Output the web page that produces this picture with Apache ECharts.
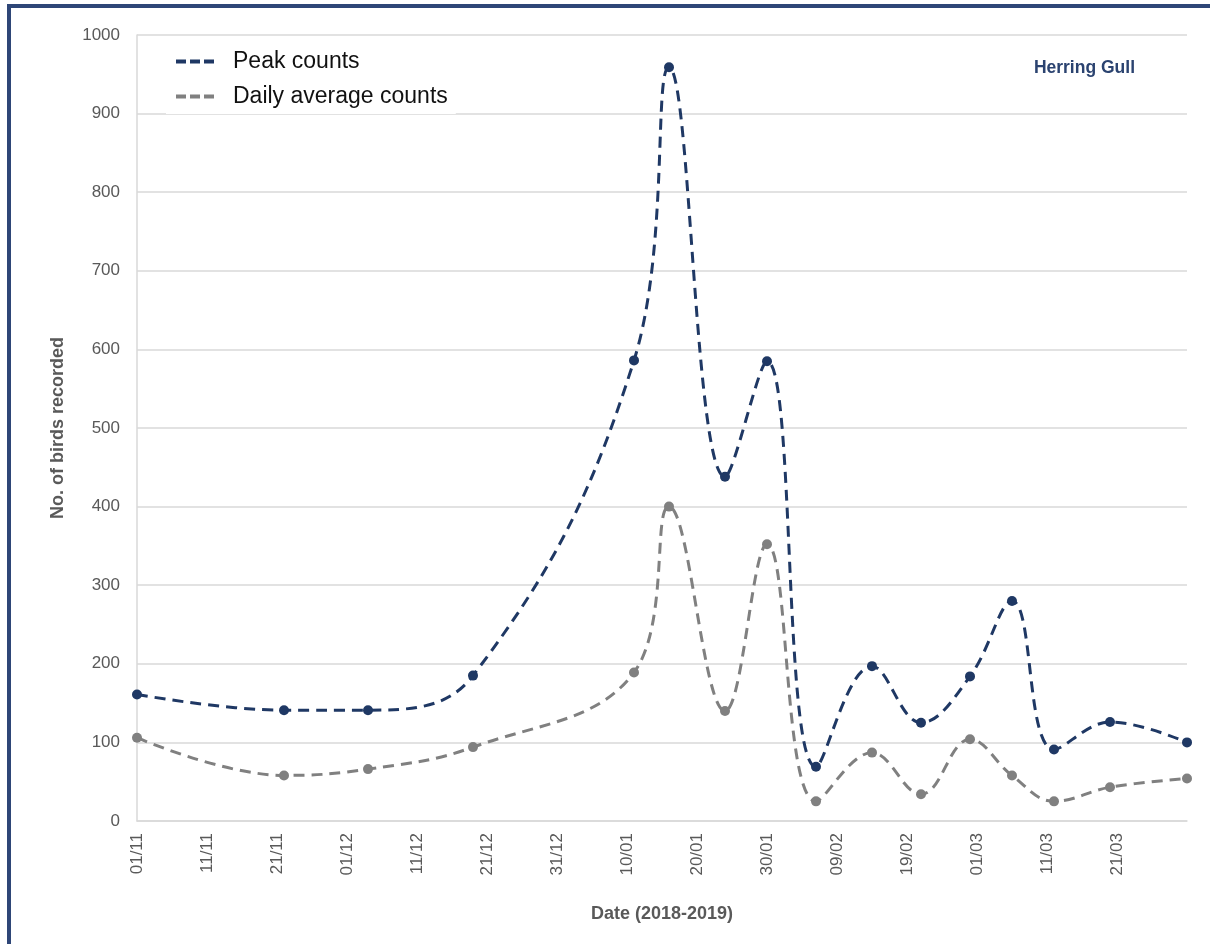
<!DOCTYPE html>
<html>
<head>
<meta charset="utf-8">
<script src="https://cdn.jsdelivr.net/npm/echarts@6/dist/echarts.min.js"></script>
<style>
  html, body { margin: 0; padding: 0; background: #ffffff; }
  #chart { width: 1210px; height: 944px; }
</style>
</head>
<body>
<div id="chart"></div>
<script>
// survey dates and counts
var surveyDates = ['2018-11-01', '2018-11-22', '2018-12-04', '2018-12-19', '2019-01-11', '2019-01-16',
    '2019-01-24', '2019-01-30', '2019-02-06', '2019-02-14', '2019-02-21', '2019-02-28',
    '2019-03-06', '2019-03-12', '2019-03-20', '2019-03-31'];
var peakCounts = [161, 141, 141, 185, 586, 959, 438, 585, 69, 197, 125, 184, 280, 91, 126, 100];
var dailyAvgCounts = [106, 58, 66, 94, 189, 400, 140, 352, 25, 87, 34, 104, 58, 25, 43, 54];
var seriesNames = ['Peak counts', 'Daily average counts'];

var startDate = '2018-11-01';
var endDate = '2019-03-31';

function toDay(s) {
    var p = s.split('-');
    var s0 = startDate.split('-');
    return (Date.UTC(+p[0], +p[1] - 1, +p[2]) - Date.UTC(+s0[0], +s0[1] - 1, +s0[2])) / 86400000;
}
function dayLabel(d) {
    var s0 = startDate.split('-');
    var t = new Date(Date.UTC(+s0[0], +s0[1] - 1, +s0[2]) + d * 86400000);
    var dd = ('0' + t.getUTCDate()).slice(-2);
    var mm = ('0' + (t.getUTCMonth() + 1)).slice(-2);
    return dd + '/' + mm;
}
function pairs(vals) {
    var list = [];
    for (var i = 0; i < surveyDates.length; i++) {
        list.push([toDay(surveyDates[i]), vals[i]]);
    }
    return list;
}

var chartDom = document.getElementById('chart');
var myChart = echarts.init(chartDom);
var option;

var axisGrey = '#595959';
var gridGrey = '#d9d9d9';
var navy = '#1F3864';
var grey = '#808080';

option = {
    backgroundColor: '#ffffff',
    animation: false,
    graphic: [{
        type: 'rect',
        shape: { x: 9, y: 6, width: 1400, height: 1200 },
        style: { fill: 'none', stroke: '#2E4677', lineWidth: 4 },
        silent: true
    }],
    title: {
        text: 'Herring Gull',
        right: 70,
        top: 54,
        textStyle: { color: '#2B4370', fontSize: 17.5, fontWeight: 'bold', fontFamily: 'Liberation Sans' }
    },
    legend: {
        orient: 'vertical',
        left: 166,
        top: 44,
        padding: [6, 8, 6, 8],
        backgroundColor: '#ffffff',
        itemGap: 12,
        itemWidth: 40,
        itemHeight: 24,
        itemStyle: { opacity: 0 },
        lineStyle: { width: 4, type: [10, 4] },
        textStyle: { color: '#111111', fontSize: 23, fontFamily: 'Liberation Sans', padding: [0, 0, 0, 12] },
        data: seriesNames
    },
    grid: {
        left: 137,
        right: 23,
        top: 35,
        bottom: 123
    },
    xAxis: {
        type: 'value',
        min: 0,
        max: toDay(endDate),
        interval: 10,
        name: 'Date (2018-2019)',
        nameLocation: 'middle',
        nameGap: 84,
        nameTextStyle: { color: axisGrey, fontSize: 18, fontWeight: 'bold', fontFamily: 'Liberation Sans' },
        axisLine: { show: true, lineStyle: { color: gridGrey, width: 1.5 } },
        axisTick: { show: false },
        splitLine: { show: false },
        axisLabel: {
            rotate: 90,
            color: axisGrey,
            fontSize: 17,
            fontFamily: 'Liberation Sans',
            margin: 12,
            showMaxLabel: false,
            formatter: function (v) { return dayLabel(v); }
        }
    },
    yAxis: {
        type: 'value',
        min: 0,
        max: 1000,
        interval: 100,
        name: 'No. of birds recorded',
        nameLocation: 'middle',
        nameGap: 70,
        nameTextStyle: { color: axisGrey, fontSize: 18, fontWeight: 'bold', fontFamily: 'Liberation Sans' },
        axisLine: { show: true, lineStyle: { color: gridGrey, width: 1.5 } },
        axisTick: { show: false },
        splitLine: { show: true, lineStyle: { color: gridGrey, width: 1.5 } },
        axisLabel: {
            color: axisGrey, fontSize: 17, fontFamily: 'Liberation Sans', margin: 17,
            formatter: function (v) { return String(v); }
        }
    },
    series: [{
        name: seriesNames[0],
        type: 'line',
        data: pairs(peakCounts),
        smooth: 0.4,
        symbol: 'circle',
        symbolSize: 10,
        itemStyle: { color: navy },
        lineStyle: { color: navy, width: 3, type: [11, 7] },
        z: 3
    },
    {
        name: seriesNames[1],
        type: 'line',
        data: pairs(dailyAvgCounts),
        smooth: 0.4,
        symbol: 'circle',
        symbolSize: 10,
        itemStyle: { color: grey },
        lineStyle: { color: grey, width: 3, type: [11, 7] },
        z: 2
    }]
};

option && myChart.setOption(option);
</script>
</body>
</html>
